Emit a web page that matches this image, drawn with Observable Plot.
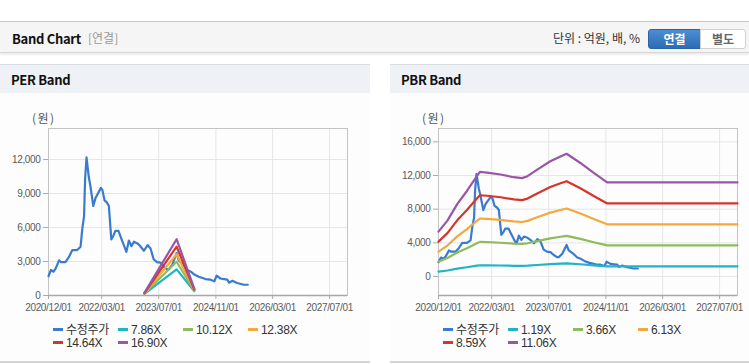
<!DOCTYPE html>
<html>
<head>
<meta charset="utf-8">
<script src="https://cdn.jsdelivr.net/npm/d3@7"></script>
<script src="https://cdn.jsdelivr.net/npm/@observablehq/plot@0.6"></script>
<style>
  html, body { margin: 0; padding: 0; background: #ffffff; }
  body { width: 749px; height: 364px; position: relative; overflow: hidden;
         font-family: "Liberation Sans", "Noto Sans CJK KR", sans-serif; }
  .abs { position: absolute; }
  .hdr { top: 21px; left: 0; width: 749px; height: 30px; background: #f5f5f5;
         border-top: 1px solid #c8c8c8; border-bottom: 1px solid #d6d6d6;
         box-shadow: 0 2px 2px rgba(0,0,0,0.08); }
  .ttl { font-family: "Noto Sans CJK KR", sans-serif; font-weight: 700; font-size: 13px; color: #111; letter-spacing: -0.3px; }
  .sub { font-family: "Noto Sans CJK KR", sans-serif; font-size: 12px; color: #999; }
  .unit { font-family: "Noto Sans CJK KR", sans-serif; font-size: 12px; color: #333; }
  .btn { font-family: "Noto Sans CJK KR", sans-serif; font-size: 12px; font-weight: 700; text-align: center; line-height: 18px; box-sizing: border-box; }
  .phdr { top: 64px; height: 29px; background: #eef1f6; border-top: 1px solid #d8dce3; box-sizing: border-box; }
  .pbody { top: 93px; height: 268px; background: #fdfdfd; border-bottom: 2px solid #d4d4d4; }
  .won { font-family: "Noto Sans CJK KR", sans-serif; font-size: 12px; color: #555; letter-spacing: 1.5px; }
  .lg { font-size: 12px; color: #333; white-space: nowrap; line-height: 13px; letter-spacing: -0.3px; }
  .sw { display: inline-block; width: 10px; height: 3px; vertical-align: middle; margin-right: 3px; position: relative; top: -1px; }
</style>
</head>
<body>
<div class="abs hdr"></div>
<div class="abs ttl" style="left:12px; top:29px;">Band Chart</div>
<div class="abs sub" style="left:88px; top:29px;">[연결]</div>
<div class="abs unit" style="left:553px; top:29px;">단위 : 억원, 배, %</div>
<div class="abs btn" style="left:648px; top:29px; width:53px; height:20px; color:#fff; background:linear-gradient(#4d8dd3,#2b6cb4); border:1px solid #2a63a6; border-radius:3px 0 0 3px;">연결</div>
<div class="abs btn" style="left:700px; top:29px; width:46px; height:20px; color:#666; background:#fff; border:1px solid #cfcfcf; border-radius:0 3px 3px 0;">별도</div>

<div class="abs phdr" style="left:0; width:370px;"></div>
<div class="abs ttl" style="left:11px; top:70px;">PER Band</div>
<div class="abs phdr" style="left:390px; width:359px;"></div>
<div class="abs ttl" style="left:401px; top:70px;">PBR Band</div>
<div class="abs pbody" style="left:0; width:370px;"></div>
<div class="abs pbody" style="left:390px; width:359px;"></div>

<div class="abs won" style="left:32px; top:109px;">(원)</div>
<div class="abs won" style="left:422px; top:109px;">(원)</div>

<div id="per" class="abs" style="left:0; top:100px;"></div>
<div id="pbr" class="abs" style="left:390px; top:100px;"></div>
<div id="perLegend"></div>
<div id="pbrLegend"></div>

<script>
// ---------- data ----------
const xTickLabels = ["2020/12/01", "2022/03/01", "2023/07/01", "2024/11/01", "2026/03/01", "2027/07/01"];
const xDomain = ["2020-12-01", "2027-12-01"];

// adjusted price (수정주가)
const priceDates = ["2020-12-01","2020-12-22","2021-01-13","2021-02-01","2021-03-01","2021-03-16","2021-04-25","2021-05-25","2021-06-22","2021-08-01","2021-09-01","2021-09-16","2021-10-01","2021-10-10","2021-10-22","2021-11-01","2021-11-10","2021-11-25","2021-12-19","2022-01-07","2022-01-22","2022-02-22","2022-03-07","2022-03-25","2022-04-15","2022-05-01","2022-05-22","2022-06-10","2022-06-25","2022-07-22","2022-08-22","2022-09-28","2022-10-19","2022-11-10","2022-12-01","2023-01-01","2023-01-25","2023-02-25","2023-03-28","2023-04-22","2023-05-19","2023-06-16","2023-07-16","2023-08-13","2023-09-10","2023-09-25","2023-10-25","2023-12-01","2023-12-19","2024-02-01","2024-03-01","2024-04-01","2024-05-01","2024-06-07","2024-08-04","2024-09-16","2024-10-19","2024-11-07","2024-12-10","2025-01-10","2025-02-06","2025-02-22","2025-03-22","2025-05-01","2025-06-28","2025-08-01"];
const priceValues = [1700,2250,2100,2400,3100,2950,2950,3400,4000,4000,4300,5900,7000,10300,12200,11300,10500,9600,7900,8600,8900,9500,9300,8400,8200,7900,4950,5300,5700,5700,4850,3850,4850,4350,4750,4600,4350,3950,4450,4150,3200,2950,2900,2550,2300,2300,2700,3750,3100,2650,2250,2100,1850,1650,1450,1400,1250,1750,1500,1450,1400,1130,1300,1100,950,950];

// PER band
const perNames = ["7.86X", "10.12X", "12.38X", "14.64X", "16.90X"];
const perDates = ["2023-03-01", "2023-12-01", "2024-05-01"];
const per786 = [150, 2310, 380];
const per1012 = [170, 2975, 430];
const per1238 = [190, 3640, 480];
const per1464 = [210, 4305, 530];
const per1690 = [230, 4970, 580];
const perYTicks = [0, 3000, 6000, 9000, 12000];

// PBR band
const pbrNames = ["1.19X", "3.66X", "6.13X", "8.59X", "11.06X"];
const pbrDates = ["2020-12-01","2021-02-15","2021-05-10","2021-08-01","2021-10-25","2021-11-20","2022-01-20","2022-05-15","2022-09-05","2022-11-15","2023-01-01","2023-03-25","2023-07-15","2023-10-10","2023-12-01","2024-03-28","2024-07-20","2024-11-12","2027-12-01"];
const pbr119  = [574,714,925,1094,1283,1338,1329,1304,1270,1258,1283,1366,1473,1535,1570,1452,1324,1203,1203];
const pbr366  = [1764,2196,2844,3364,3945,4114,4088,4011,3905,3869,3945,4202,4531,4721,4828,4465,4074,3700,3700];
const pbr613  = [2955,3678,4763,5634,6608,6890,6847,6718,6541,6479,6608,7037,7589,7908,8085,7479,6823,6197,6197];
const pbr859  = [4140,5154,6674,7894,9260,9655,9595,9415,9166,9080,9260,9861,10634,11081,11330,10480,9561,8684,8684];
const pbr1106 = [5331,6636,8594,10164,11923,12431,12354,12122,11801,11690,11923,12697,13692,14267,14588,13493,12310,11182,11182];
const pbrYTicks = [0, 4000, 8000, 12000, 16000];

const priceName = "수정주가";
const colors = ["#3a7bd0", "#22b3c6", "#8fbb5b", "#f2a93e", "#d6352c", "#9a56a6"];

// ---------- helpers ----------
const parse = d3.utcParse("%Y-%m-%d");
const parseTick = d3.utcParse("%Y/%m/%d");
const xTicks = xTickLabels.map(parseTick);
const toRows = (dates, vals, name) => dates.map((d, i) => ({date: parse(d), value: vals[i], name}));

function chart({width, marginRight, yDomain, yTicks, series}) {
  const marks = [
    Plot.gridX(xTicks, {stroke: "#e6e6e6", strokeOpacity: 1}),
    Plot.gridY(yTicks, {stroke: "#e6e6e6", strokeOpacity: 1}),
    Plot.frame({stroke: "#c4c4c4"}),
    Plot.axisX({ticks: xTicks, tickFormat: d3.utcFormat("%Y/%m/%d"), tickSize: 4, tickPadding: 4, label: null, stroke: "#aaa"}),
    Plot.axisY({ticks: yTicks, tickFormat: d3.format(","), tickSize: 5, tickPadding: 3, label: null, stroke: "#aaa"}),
    Plot.ruleY([yDomain[0]], {stroke: "#a8a8a8", strokeWidth: 1.5})
  ];
  series.forEach((s, i) => {
    marks.push(Plot.line(s, {x: "date", y: "value", stroke: colors[i], strokeWidth: 2.2, strokeLinejoin: "round", curve: "linear"}));
  });
  return Plot.plot({
    width, height: 220,
    marginLeft: 48, marginRight, marginTop: 28, marginBottom: 25,
    style: {fontFamily: "'Liberation Sans', Arial, sans-serif", fontSize: "10px", letterSpacing: "-0.35px", color: "#5a5a5a", background: "transparent", overflow: "visible"},
    x: {type: "utc", domain: xDomain.map(parse)},
    y: {domain: yDomain},
    marks
  });
}

const priceRows = toRows(priceDates, priceValues, priceName);

document.getElementById("per").append(chart({
  width: 370, marginRight: 23, yDomain: [0, 14740], yTicks: perYTicks,
  series: [priceRows,
    toRows(perDates, per786, perNames[0]),
    toRows(perDates, per1012, perNames[1]),
    toRows(perDates, per1238, perNames[2]),
    toRows(perDates, per1464, perNames[3]),
    toRows(perDates, per1690, perNames[4])]
}));

document.getElementById("pbr").append(chart({
  width: 359, marginRight: 12, yDomain: [-2260, 17590], yTicks: pbrYTicks,
  series: [priceRows,
    toRows(pbrDates, pbr119, pbrNames[0]),
    toRows(pbrDates, pbr366, pbrNames[1]),
    toRows(pbrDates, pbr613, pbrNames[2]),
    toRows(pbrDates, pbr859, pbrNames[3]),
    toRows(pbrDates, pbr1106, pbrNames[4])]
}));

function legend(el, x0, names) {
  const all = [priceName, ...names];
  all.forEach((n, i) => {
    const row = Math.floor(i / 4), col = i % 4;
    const d = document.createElement("div");
    d.className = "abs lg";
    d.style.left = (x0 + col * 65) + "px";
    d.style.top = (324 + row * 13) + "px";
    d.innerHTML = `<span class="sw" style="background:${colors[i]}"></span>${n}`;
    el.append(d);
  });
}
legend(document.getElementById("perLegend"), 53, perNames);
legend(document.getElementById("pbrLegend"), 443, pbrNames);
</script>
</body>
</html>
